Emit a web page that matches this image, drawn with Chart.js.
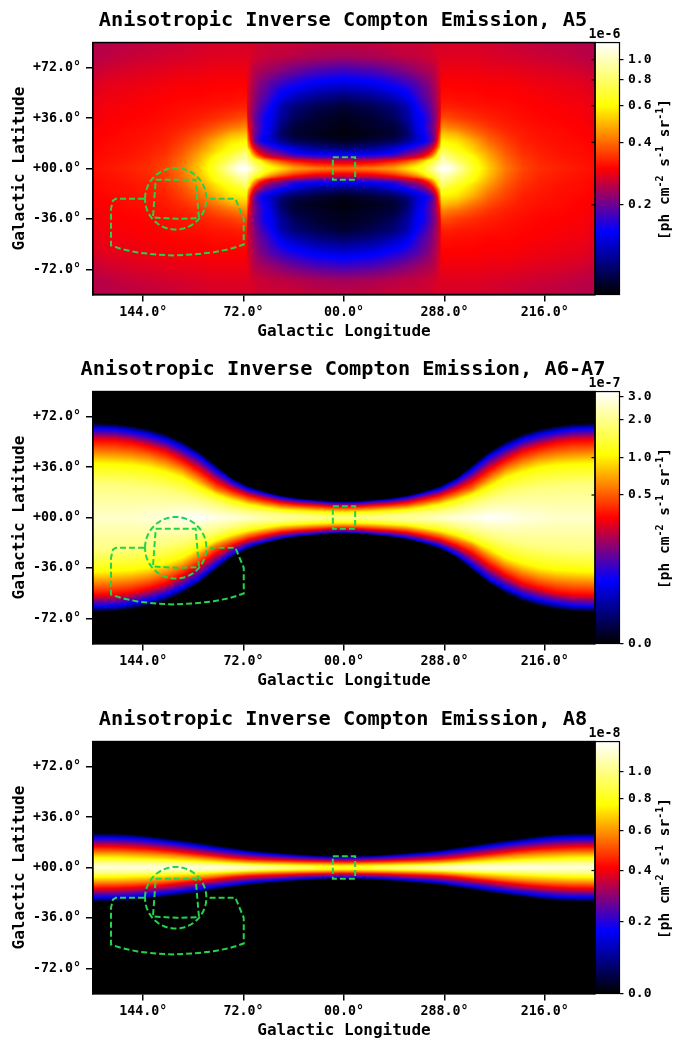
<!DOCTYPE html>
<html>
<head>
<meta charset="utf-8">
<script src="https://cdn.jsdelivr.net/npm/chart.js@4"></script>
<style>
  html, body { margin: 0; background: #fff; }
  canvas { position: absolute; left: 0; }
</style>
</head>
<body>
<canvas id="a5" width="686" height="350" style="top:0"></canvas>
<canvas id="a67" width="686" height="350" style="top:349px"></canvas>
<canvas id="a8" width="686" height="350" style="top:699px"></canvas>
<script>
const lonTicks = [144, 72, 0, -72, -144];
const lonTickLabels = ['144.0°', '72.0°', '00.0°', '288.0°', '216.0°'];
const latTicks = [72, 36, 0, -36, -72];
const latTickLabels = ['+72.0°', '+36.0°', '+00.0°', '-36.0°', '-72.0°'];

// A5: flux in 1e-6 ph cm-2 s-1 sr-1 on a lon/lat grid
const a5Lons = [0, 21, 36, 45, 52, 57, 61, 64, 66, 68.5, 70, 72, 76, 81, 92, 104, 116, 128, 140, 155, 170, 180];
const a5Lats = [0, 2, 4, 6, 8, 10, 12, 15, 20, 25, 30, 36, 44, 50, 60, 70, 80, 90];
const a5Rows = [
  [.407,.430,.468,.553,.618,.691,.795,.915,1.02,1.21,1.21,1.21,1.18,.994,.691,.523,.418,.364,.339,.325,.316,.312],
  [.344,.364,.418,.495,.569,.654,.752,.841,.941,.994,1.11,1.14,1.08,.941,.672,.516,.412,.359,.335,.325,.316,.308],
  [.291,.308,.354,.418,.495,.585,.691,.773,.865,.915,1.05,1.05,.994,.865,.654,.509,.407,.354,.335,.321,.312,.308],
  [.246,.253,.291,.335,.396,.481,.601,.672,.773,.865,.994,.967,.915,.795,.636,.495,.401,.354,.330,.321,.312,.308],
  [.181,.186,.208,.246,.275,.325,.418,.523,.636,.795,.941,.915,.841,.752,.618,.481,.396,.349,.330,.316,.312,.303],
  [.149,.153,.171,.208,.233,.267,.325,.430,.523,.731,.865,.841,.773,.711,.585,.468,.385,.344,.325,.316,.308,.303],
  [.126,.129,.149,.181,.202,.233,.275,.354,.442,.691,.795,.773,.711,.654,.553,.455,.380,.339,.325,.312,.308,.303],
  [.098,.107,.126,.149,.171,.191,.226,.275,.344,.495,.691,.672,.636,.609,.530,.430,.369,.335,.321,.312,.308,.299],
  [.080,.087,.093,.107,.129,.141,.162,.197,.253,.396,.585,.585,.569,.560,.480,.396,.354,.325,.316,.308,.303,.299],
  [.076,.080,.085,.098,.129,.149,.176,.202,.239,.344,.509,.509,.495,.481,.418,.369,.339,.321,.312,.308,.299,.295],
  [.078,.083,.087,.103,.137,.157,.181,.208,.239,.299,.430,.430,.418,.407,.374,.344,.325,.316,.308,.303,.299,.291],
  [.080,.085,.095,.113,.141,.153,.176,.202,.226,.267,.369,.369,.364,.354,.339,.325,.316,.308,.303,.299,.295,.287],
  [.085,.093,.103,.119,.149,.171,.191,.214,.233,.260,.325,.325,.325,.321,.316,.312,.308,.303,.299,.295,.291,.283],
  [.098,.107,.122,.137,.166,.186,.202,.220,.239,.260,.312,.312,.312,.308,.308,.303,.303,.299,.295,.291,.287,.279],
  [.133,.141,.157,.171,.186,.202,.214,.233,.246,.267,.299,.299,.299,.299,.299,.295,.295,.291,.287,.283,.279,.271],
  [.176,.186,.202,.214,.226,.233,.239,.246,.253,.275,.287,.287,.287,.287,.287,.283,.283,.279,.275,.271,.264,.256],
  [.233,.239,.246,.253,.253,.260,.260,.267,.267,.275,.275,.275,.275,.275,.275,.271,.267,.264,.260,.256,.249,.246],
  [.253,.253,.260,.260,.260,.260,.260,.267,.267,.267,.267,.267,.267,.267,.267,.264,.260,.256,.253,.249,.246,.242]
];

// A6-A7 and A8 are single bands: flux on the plane, then the latitude each flux level falls to
const bandLons = [0, 10, 21, 33, 45, 57, 69, 81, 92, 104, 116, 128, 140, 152, 164, 180];

const a67Plane = [1.82, 1.85, 1.91, 2.0, 2.09, 2.3, 2.61, 2.85, 2.98, 3.27, 3.12, 2.85, 2.73, 2.61, 2.61, 2.61];
const a67Levels = [1.86, 1.055, .59, .325, .081, .0037];
const a67LevelLats = [
  [0.3, 0.5, 1, 1.6, 2.5, 3.2, 4, 6.5, 9.5, 13, 16.5, 19, 21, 22.3, 23.2, 23.5],
  [3.6, 3.8, 4.2, 4.8, 5.6, 7.3, 9.4, 12.5, 16.5, 22, 28.7, 32.7, 35.8, 37.5, 38.2, 38.7],
  [5.8, 6, 6.5, 7.2, 8.1, 10, 12.4, 16.2, 20, 27.9, 35, 39.9, 43.4, 45.4, 46.5, 47],
  [7.7, 7.9, 8.7, 9.4, 10.6, 13, 15.8, 20.1, 25.6, 34, 41.1, 47.1, 50.6, 53.5, 55, 55.4],
  [10.6, 10.8, 11.8, 12.7, 14.4, 17.2, 20.3, 26.3, 34, 43.5, 50.1, 55.4, 59, 61.3, 63, 63.7],
  [11.3, 11.6, 12.5, 13.7, 15.6, 18.5, 22.6, 28.7, 37.5, 47, 54.2, 59.6, 63, 65.4, 66.8, 67.3]
];

const a8Plane = [.848, .86, .88, .93, .996, 1.08, 1.15, 1.18, 1.19, 1.21, 1.21, 1.21, 1.21, 1.19, 1.19, 1.19];
const a8Levels = [.986, .762, .572, .415, .17, .0115];
const a8LevelLats = [
  [0, 0, 0, 0.3, 0.8, 1.2, 1.7, 2.1, 2.5, 2.9, 3.2, 3.4, 3.6, 3.7, 3.8, 3.8],
  [1.1, 1.2, 1.4, 1.6, 1.9, 2.2, 2.5, 3.1, 3.6, 4.2, 4.8, 5.4, 5.9, 6.4, 6.8, 7],
  [2.8, 2.9, 3.1, 3.3, 3.6, 3.9, 4.3, 5.1, 6.1, 7.2, 8.3, 9.3, 10, 10.5, 10.9, 11],
  [4.2, 4.3, 4.5, 4.8, 5.2, 5.6, 6.1, 7.1, 8.3, 9.6, 11, 12.3, 13.4, 14.2, 14.7, 14.9],
  [7, 7.1, 7.4, 8, 8.7, 9.5, 10.5, 12, 13.4, 15.1, 16.8, 18.3, 19.6, 20.6, 21.1, 21.3],
  [8.3, 8.3, 8.7, 9.4, 10.4, 11.3, 12.5, 14.2, 15.8, 17.8, 19.4, 20.8, 22.5, 23.7, 24.2, 24.4]
];

// colorbars
const a5BarTicks = [1.0, 0.8, 0.6, 0.4, 0.2];
const a67BarTicks = [3.0, 2.0, 1.0, 0.5, 0.0];
const a8BarTicks = [1.0, 0.8, 0.6, 0.4, 0.2, 0.0];

// regions, lon/lat degrees
const m31Centre = [120.7, -21.6];
const m31Radius = 22;
const diskLons = [135, 106.4, 104, 120, 137, 135];
const diskLats = [-8, -8, -35.5, -35.9, -35, -8];
const haloLons = [143.4, 163.6, 165.7, 167.1, 167.1, 160, 148, 133.8, 121.9, 107.6, 93.4, 81.4, 71.9, 71.9, 77.9, 98.1];
const haloLats = [-21.6, -21.6, -22.9, -28.8, -55, -57.4, -60, -61.6, -62.1, -61.4, -59.8, -57.4, -54.3, -35.9, -21.6, -21.6];
const gcLons = [8, -8, -8, 8, 8];
const gcLats = [8, 8, -8, -8, 8];

const FONT = '"DejaVu Sans Mono"';
const GREEN = '#24d34c';

function pairs(xs, ys) { return xs.map((x, i) => ({ x, y: ys[i] })); }

function circlePoints() {
  const pts = [];
  for (let a = 0; a <= 360; a += 5) {
    pts.push({
      x: m31Centre[0] + m31Radius * Math.cos(a * Math.PI / 180),
      y: m31Centre[1] + m31Radius * Math.sin(a * Math.PI / 180)
    });
  }
  return pts;
}

// ds9 "b" colormap
function ramp(t, lo, hi) { return Math.min(1, Math.max(0, (t - lo) / (hi - lo))); }
function cmap(t) {
  const r = ramp(t, .25, .5);
  const g = ramp(t, .5, .75);
  const b = t < .25 ? t / .25 : t < .5 ? (.5 - t) / .25 : ramp(t, .75, 1);
  return [r * 255, g * 255, b * 255];
}

function makeNorm(a, vmin, vmax) {
  const lo = Math.log(vmin + a), hi = Math.log(vmax + a);
  return v => (Math.log(Math.max(v, vmin) + a) - lo) / (hi - lo);
}

function bracket(list, x) {
  let i = 0;
  while (i < list.length - 2 && x > list[i + 1]) i++;
  return [i, Math.min(1, Math.max(0, (x - list[i]) / (list[i + 1] - list[i])))];
}

// shading between the read nodes, like imshow with bilinear interpolation
function gridSampler(lons, lats, rows, norm) {
  const f = rows.map(r => r.map(norm));
  return (l, b) => {
    const [i, u] = bracket(lons, Math.abs(l));
    const [j, w] = bracket(lats, Math.abs(b));
    const top = f[j][i] * (1 - u) + f[j][i + 1] * u;
    const bot = f[j + 1][i] * (1 - u) + f[j + 1][i + 1] * u;
    return top * (1 - w) + bot * w;
  };
}

function bandSampler(lons, plane, levels, levelLats, norm) {
  const pf = plane.map(norm), lf = levels.map(norm);
  return (l, b) => {
    const [i, u] = bracket(lons, Math.abs(l));
    const ab = Math.abs(b);
    let prevLat = 0, prevF = pf[i] * (1 - u) + pf[i + 1] * u;
    for (let k = 0; k < levels.length; k++) {
      const lat = levelLats[k][i] * (1 - u) + levelLats[k][i + 1] * u;
      if (lat <= prevLat) continue;
      if (ab <= lat) return prevF + (lf[k] - prevF) * (ab - prevLat) / (lat - prevLat);
      prevLat = lat;
      prevF = lf[k];
    }
    return 0;
  };
}

const heatmap = {
  id: 'heatmap',
  beforeDatasetsDraw(chart, args, opts) {
    const { ctx, chartArea: area, scales } = chart;
    const w = Math.ceil(area.right - area.left), h = Math.ceil(area.bottom - area.top);
    const off = document.createElement('canvas');
    off.width = w;
    off.height = h;
    const octx = off.getContext('2d');
    const img = octx.createImageData(w, h);
    for (let py = 0; py < h; py++) {
      const b = scales.y.getValueForPixel(area.top + py + .5);
      for (let px = 0; px < w; px++) {
        const l = scales.x.getValueForPixel(area.left + px + .5);
        const c = cmap(opts.sample(l, b));
        const n = (py * w + px) * 4;
        img.data[n] = c[0];
        img.data[n + 1] = c[1];
        img.data[n + 2] = c[2];
        img.data[n + 3] = 255;
      }
    }
    octx.putImageData(img, 0, 0);
    ctx.drawImage(off, area.left, area.top);
  }
};

// bar label pieces: text, raised as superscript or not
const barLabelParts = [['[ph cm', false], ['-2', true], [' s', false], ['-1', true], [' sr', false], ['-1', true], [']', false]];

function drawBarLabel(ctx, x, y) {
  ctx.save();
  ctx.translate(x, y);
  ctx.rotate(-Math.PI / 2);
  ctx.textAlign = 'left';
  ctx.textBaseline = 'alphabetic';
  let total = 0;
  barLabelParts.forEach(([text, sup]) => {
    ctx.font = `bold ${sup ? 10 : 14.5}px ${FONT}`;
    total += ctx.measureText(text).width;
  });
  let pos = -total / 2;
  barLabelParts.forEach(([text, sup]) => {
    ctx.font = `bold ${sup ? 10 : 14.5}px ${FONT}`;
    ctx.fillText(text, pos, sup ? 0 : 6);
    pos += ctx.measureText(text).width;
  });
  ctx.restore();
}

const colorbar = {
  id: 'colorbar',
  afterDraw(chart, args, opts) {
    const { ctx, chartArea: area, scales } = chart;
    const bar = scales.barGap, axis = scales.bar;
    ctx.save();
    for (let y = Math.floor(area.top); y < area.bottom; y++) {
      const f = (area.bottom - y - .5) / (area.bottom - area.top);
      const c = cmap(f);
      ctx.fillStyle = `rgb(${c[0]},${c[1]},${c[2]})`;
      ctx.fillRect(bar.left, y, bar.right - bar.left, 1);
    }
    ctx.strokeStyle = '#000';
    ctx.lineWidth = 1.2;
    ctx.strokeRect(bar.left, area.top, bar.right - bar.left, area.bottom - area.top);
    axis.ticks.forEach(t => {
      const y = axis.getPixelForValue(t.value);
      ctx.beginPath();
      ctx.moveTo(bar.left - 3.5, y);
      ctx.lineTo(bar.left, y);
      ctx.stroke();
    });
    ctx.lineWidth = 1.5;
    ctx.strokeRect(area.left, area.top, area.right - area.left, area.bottom - area.top);

    ctx.fillStyle = '#000';
    ctx.font = `bold 13.3px ${FONT}`;
    ctx.textAlign = 'right';
    ctx.textBaseline = 'middle';
    ctx.fillText(opts.offset, bar.right + 1, area.top - 8);
    drawBarLabel(ctx, 663, (area.top + area.bottom) / 2 + 1);
    ctx.restore();
  }
};

function regionSet(data) {
  return {
    data, showLine: true, fill: false, tension: 0, pointRadius: 0,
    borderColor: GREEN, borderWidth: 2, borderDash: [6, 3]
  };
}

function drawPanel(id, title, sample, barShift, barMin, barMax, barTicks, offset) {
  return new Chart(document.getElementById(id), {
    type: 'scatter',
    data: {
      datasets: [
        regionSet(circlePoints()),
        regionSet(pairs(diskLons, diskLats)),
        regionSet(pairs(haloLons, haloLats)),
        regionSet(pairs(gcLons, gcLats))
      ]
    },
    options: {
      responsive: false,
      animation: false,
      events: [],
      layout: { padding: 0 },
      plugins: {
        legend: { display: false },
        tooltip: { enabled: false },
        title: {
          display: true,
          text: title,
          color: '#000',
          font: { family: FONT, size: 20.3, weight: 'bold', lineHeight: 1.2 },
          padding: { top: 9, bottom: 9.2 }
        },
        heatmap: { sample },
        colorbar: { offset }
      },
      scales: {
        x: {
          type: 'linear', reverse: true, min: -180, max: 180,
          afterBuildTicks(s) { s.ticks = lonTicks.map(value => ({ value })); },
          afterFit(s) { s.height = 55.5; },
          border: { color: '#000', width: 1.5 },
          grid: { drawOnChartArea: false, color: '#000', lineWidth: 1.5, tickLength: 7 },
          ticks: {
            color: '#000', padding: 3, maxRotation: 0, autoSkip: false,
            font: { family: FONT, size: 13.3, weight: 'bold' },
            callback: v => lonTickLabels[lonTicks.indexOf(v)]
          },
          title: {
            display: true, text: 'Galactic Longitude', color: '#000',
            font: { family: FONT, size: 16, weight: 'bold', lineHeight: 1.2 },
            padding: { top: 0, bottom: 8.9 }
          }
        },
        y: {
          type: 'linear', min: -90, max: 90,
          afterBuildTicks(s) { s.ticks = latTicks.map(value => ({ value })); },
          afterFit(s) { s.width = 93; },
          border: { color: '#000', width: 1.5 },
          grid: { drawOnChartArea: false, color: '#000', lineWidth: 1.5, tickLength: 7 },
          ticks: {
            color: '#000', padding: 5, autoSkip: false,
            font: { family: FONT, size: 13.3, weight: 'bold' },
            callback: v => latTickLabels[latTicks.indexOf(v)]
          },
          title: {
            display: true, text: 'Galactic Latitude', color: '#000',
            font: { family: FONT, size: 16, weight: 'bold', lineHeight: 1.2 },
            padding: { top: 10, bottom: 0 }
          }
        },
        // empty axis, only holds the room of the colour strip
        barGap: {
          type: 'linear', position: 'right', weight: 0, min: 0, max: 1,
          afterFit(s) { s.width = 24.5; },
          border: { display: false },
          grid: { display: false },
          ticks: { display: false }
        },
        bar: {
          type: 'logarithmic', position: 'right', weight: 1,
          min: barMin + barShift, max: barMax + barShift,
          afterBuildTicks(s) { s.ticks = barTicks.map(v => ({ value: v + barShift })); },
          afterFit(s) { s.width = 66.5; },
          border: { display: false },
          grid: { drawOnChartArea: false, color: '#000', lineWidth: 1.2, tickLength: 4 },
          ticks: {
            color: '#000', padding: 4.5, autoSkip: false,
            font: { family: FONT, size: 13, weight: 'bold' },
            callback: v => (v - barShift).toFixed(1)
          }
        }
      }
    },
    plugins: [heatmap, colorbar]
  });
}

const a5Norm = makeNorm(0, .074, 1.21);
const a67Norm = makeNorm(.04, 0, 3.27);
const a8Norm = makeNorm(.4, 0, 1.255);

drawPanel('a5', 'Anisotropic Inverse Compton Emission, A5',
  gridSampler(a5Lons, a5Lats, a5Rows, a5Norm), 0, .074, 1.21, a5BarTicks, '1e-6');
drawPanel('a67', 'Anisotropic Inverse Compton Emission, A6-A7',
  bandSampler(bandLons, a67Plane, a67Levels, a67LevelLats, a67Norm), .04, 0, 3.27, a67BarTicks, '1e-7');
drawPanel('a8', 'Anisotropic Inverse Compton Emission, A8',
  bandSampler(bandLons, a8Plane, a8Levels, a8LevelLats, a8Norm), .4, 0, 1.255, a8BarTicks, '1e-8');
</script>
</body>
</html>
